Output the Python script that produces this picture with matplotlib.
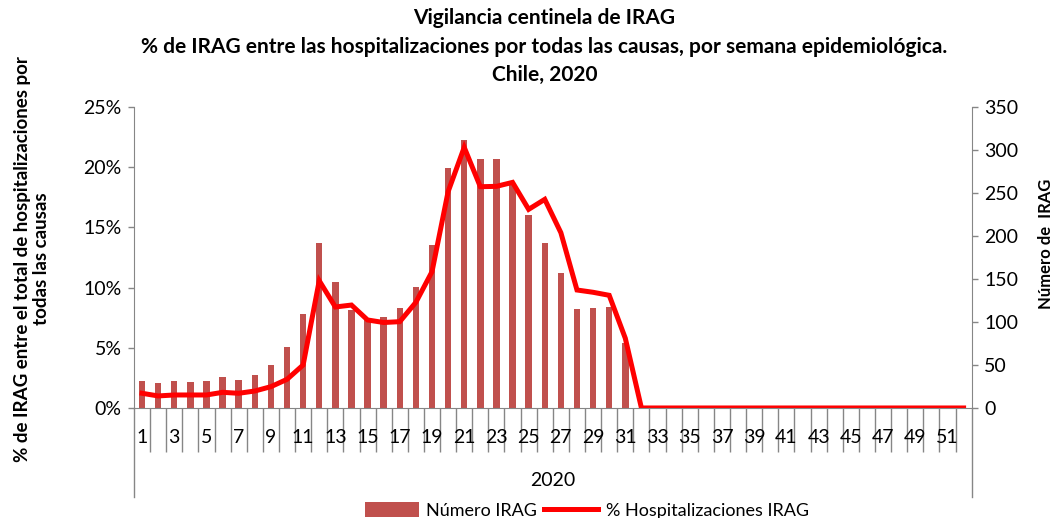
import matplotlib
matplotlib.use('Agg')
import matplotlib.pyplot as plt
from matplotlib.ticker import FixedLocator, FuncFormatter

plt.rcParams['font.family'] = ['Lato', 'DejaVu Sans']

weeks = list(range(1, 53))

# Número IRAG (eje derecho)
numero_irag = [31, 29, 31, 30, 31, 36, 33, 38, 50, 71,
               109, 192, 147, 114, 102, 106, 116, 141, 189, 279,
               312, 290, 290, 260, 225, 192, 157, 115, 116, 117,
               75] + [0] * 21

# % Hospitalizaciones IRAG (eje izquierdo)
pct_hosp = [1.22, 1.0, 1.08, 1.08, 1.08, 1.3, 1.22, 1.41, 1.77, 2.38,
            3.57, 10.57, 8.39, 8.55, 7.31, 7.1, 7.17, 8.78, 11.32, 17.97,
            21.65, 18.38, 18.41, 18.74, 16.5, 17.33, 14.56, 9.8, 9.61, 9.36,
            5.79] + [0] * 21

pct_ticks = [0, 5, 10, 15, 20, 25]
num_ticks = [0, 50, 100, 150, 200, 250, 300, 350]

gray = '#868686'
bar_color = '#C0504D'
line_color = '#FF0000'

fig = plt.figure(figsize=(10.55, 5.18), dpi=100)
ax = fig.add_axes([0.127, 0.2124, 0.794, 0.581])
ax2 = ax.twinx()
ax.set_zorder(ax2.get_zorder() + 1)
ax.patch.set_visible(False)

bars = ax2.bar(weeks, numero_irag, width=0.4, color=bar_color, label='Número IRAG')
line, = ax.plot(weeks, pct_hosp, color=line_color, lw=3.6, solid_joinstyle='miter',
                label='% Hospitalizaciones IRAG')

ax.set_xlim(0.5, 52.5)
ax.set_ylim(0, 25)
ax2.set_ylim(0, 350)
ax.yaxis.set_major_locator(FixedLocator(pct_ticks))
ax.yaxis.set_major_formatter(FuncFormatter(lambda v, p: '%d%%' % v))
ax2.yaxis.set_major_locator(FixedLocator(num_ticks))

# eje x de categorias
ax.xaxis.set_major_locator(FixedLocator([w + 0.5 for w in weeks[:-1]]))
ax.xaxis.set_major_formatter(FuncFormatter(lambda v, p: ''))
ax.xaxis.set_minor_locator(FixedLocator(weeks))
ax.xaxis.set_minor_formatter(FuncFormatter(lambda v, p: str(int(round(v))) if int(round(v)) % 2 == 1 else ''))
ax.tick_params(axis='x', which='major', length=32, width=1, color=gray, direction='out')
ax.tick_params(axis='x', which='minor', length=0, pad=15, labelsize=14)
ax.tick_params(axis='y', length=4, width=1, color=gray, labelsize=14, pad=5)
ax2.tick_params(axis='y', length=4, width=1, color=gray, labelsize=14, pad=5)

for s in ['top', 'right']:
    ax.spines[s].set_visible(False)
for s in ['top', 'left', 'bottom']:
    ax2.spines[s].set_visible(False)
for s in ['left', 'bottom']:
    ax.spines[s].set_color(gray)
ax2.spines['right'].set_color(gray)

# lineas de separacion del grupo 2020
for xpos in [0, 1]:
    ax.plot([xpos, xpos], [0, -0.296], transform=ax.transAxes, color=gray, lw=1, clip_on=False)
ax.text(0.5, -0.24, '2020', transform=ax.transAxes, ha='center', va='center', fontsize=14)

fig.text(0.516, 0.965, 'Vigilancia centinela de IRAG', ha='center', va='center',
         fontsize=15, fontweight='bold')
fig.text(0.516, 0.909, '% de IRAG entre las hospitalizaciones por todas las causas, por semana epidemiológica.',
         ha='center', va='center', fontsize=15, fontweight='bold')
fig.text(0.516, 0.855, 'Chile, 2020', ha='center', va='center', fontsize=15, fontweight='bold')

fig.text(0.03, 0.5, '% de IRAG entre el total de hospitalizaciones por\ntodas las causas',
         rotation=90, ha='center', va='center', fontsize=13.5, fontweight='bold', linespacing=1.15)
fig.text(0.991, 0.53, 'Número de  IRAG', rotation=90, ha='center', va='center',
         fontsize=12, fontweight='bold')

fig.legend([bars, line], ['Número IRAG', '% Hospitalizaciones IRAG'], loc='center',
           bbox_to_anchor=(0.556, 0.015), ncol=2, frameon=False, fontsize=13,
           handlelength=3.0, handleheight=0.9, columnspacing=0.4, handletextpad=0.4)

fig.savefig('out.png', dpi=100)
